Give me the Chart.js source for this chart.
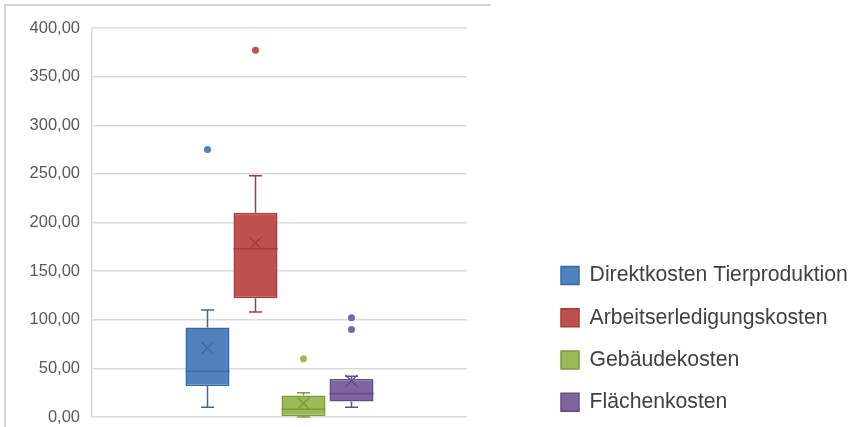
<!DOCTYPE html>
<html>
<head>
<meta charset="utf-8">
<script src="https://cdn.jsdelivr.net/npm/chart.js@4"></script>
<style>
  html, body { margin: 0; padding: 0; background: #fff; }
  #wrap { position: relative; width: 856px; height: 427px; overflow: hidden; }
  #frame { position: absolute; left: 4px; top: 4px; width: 485px; height: 430px;
           border-top: 2px solid #d6d6d6; border-left: 2px solid #d6d6d6; }
  #chart { position: absolute; left: 0; top: 0; }
</style>
</head>
<body>
<div id="wrap">
  <div id="frame"></div>
  <canvas id="chart" width="856" height="427"></canvas>
</div>
<script>
// series (one box each)
const seriesNames = ['Direktkosten Tierproduktion', 'Arbeitserledigungskosten', 'Gebäudekosten', 'Flächenkosten'];
const mins     = [10, 108, 0, 10];
const q1s      = [32, 122, 1, 16];
const medians  = [47, 173, 8, 24];
const q3s      = [92, 210, 22, 39];
const maxs     = [110, 248, 25, 42];
const means    = [71, 179, 14, 37];
const outliers = [[275], [377], [60], [102, 90]];

// y axis
const yMin = 0, yMax = 400, yStep = 50;

const fills   = ['#4f81bd', '#c0504d', '#9bbb59', '#8064a2'];
const strokes = ['#3b6aa3', '#a23f3c', '#7e9d41', '#654c86'];

// draws whiskers, median, mean cross and outliers on top of the bars
const boxPlot = {
    id: 'boxPlot',
    afterDatasetsDraw(chart) {
        const ctx = chart.ctx;
        const y = chart.scales.y;
        for (let i = 0; i < seriesNames.length; i++) {
            const bar = chart.getDatasetMeta(i).data[0];
            const x = bar.x, half = bar.width / 2, cap = 6.5, m = 6;
            const py = v => y.getPixelForValue(v);
            ctx.save();
            ctx.strokeStyle = strokes[i];
            ctx.lineWidth = 1.5;
            ctx.beginPath();
            // upper whisker
            ctx.moveTo(x, py(q3s[i])); ctx.lineTo(x, py(maxs[i]));
            ctx.moveTo(x - cap, py(maxs[i])); ctx.lineTo(x + cap, py(maxs[i]));
            // lower whisker
            ctx.moveTo(x, py(q1s[i])); ctx.lineTo(x, py(mins[i]));
            ctx.moveTo(x - cap, py(mins[i])); ctx.lineTo(x + cap, py(mins[i]));
            // median
            ctx.moveTo(x - half, py(medians[i])); ctx.lineTo(x + half, py(medians[i]));
            // mean
            const ym = py(means[i]);
            ctx.moveTo(x - m, ym - m); ctx.lineTo(x + m, ym + m);
            ctx.moveTo(x + m, ym - m); ctx.lineTo(x - m, ym + m);
            ctx.stroke();
            ctx.fillStyle = fills[i];
            for (const v of outliers[i]) {
                ctx.beginPath();
                ctx.arc(x, py(v), 3.5, 0, Math.PI * 2);
                ctx.fill();
            }
            ctx.restore();
        }
    }
};

// legend sits far right, chart area ends at ~467px
const legendPlace = {
    id: 'legendPlace',
    beforeInit(chart) {
        const fit = chart.legend.fit;
        chart.legend.fit = function () {
            fit.call(this);
            this.width = 389;
        };
    },
    afterLayout(chart) {
        chart.legend.left = 540;
        chart.legend.top = 244;
        chart.legend.bottom = 600;
    }
};

const ctx = document.getElementById('chart').getContext('2d');
new Chart(ctx, {
    type: 'bar',
    data: {
        labels: [''],
        datasets: seriesNames.map((name, i) => ({
            label: name,
            data: [[q1s[i], q3s[i]]],
            backgroundColor: fills[i],
            borderColor: strokes[i],
            borderWidth: 1.5,
            borderSkipped: false,
            categoryPercentage: 0.512,
            barPercentage: 0.917
        }))
    },
    options: {
        responsive: false,
        animation: false,
        devicePixelRatio: 1,
        layout: { padding: { top: 28, bottom: 10, left: 0, right: 0 } },
        scales: {
            x: { display: false },
            y: {
                min: yMin,
                max: yMax,
                afterFit(axis) {
                    axis.width = 92;
                    axis.paddingTop = 0;
                    axis.paddingBottom = 0;
                },
                grid: { color: '#d9d9d9', lineWidth: 1.5, drawTicks: false, tickLength: 0 },
                border: { display: true, color: '#d9d9d9', width: 1.5 },
                ticks: {
                    stepSize: yStep,
                    padding: 12,
                    color: '#595959',
                    font: { family: '"Liberation Sans", Arial, sans-serif', size: 16.5 },
                    callback: v => v.toFixed(2).replace('.', ',')
                }
            }
        },
        plugins: {
            tooltip: { enabled: false },
            legend: {
                position: 'right',
                align: 'start',
                labels: {
                    boxWidth: 18,
                    boxHeight: 18,
                    padding: 21,
                    color: '#404040',
                    font: { family: '"Liberation Sans", Arial, sans-serif', size: 21.2 }
                }
            }
        }
    },
    plugins: [boxPlot, legendPlace]
});
</script>
</body>
</html>
